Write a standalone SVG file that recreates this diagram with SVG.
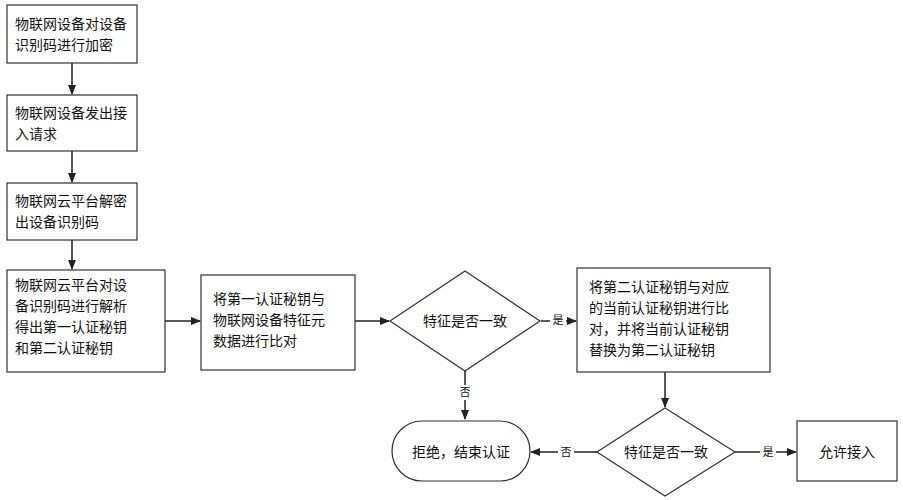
<svg xmlns="http://www.w3.org/2000/svg" width="903" height="500" viewBox="0 0 903 500">
<defs>
<marker id="ah" markerWidth="10" markerHeight="8" refX="9" refY="4" orient="auto" markerUnits="userSpaceOnUse"><path d="M0,0 L10,4 L0,8 Z" fill="#222"/></marker>
<style>
.n{fill:#fff;stroke:#333;stroke-width:1.2}
text{font-family:"Noto Sans CJK SC","Liberation Sans",sans-serif;font-size:14px;fill:#111}
.l{font-size:11px}
.c{stroke:#222;stroke-width:1.5;fill:none;marker-end:url(#ah)}
</style>
</defs>
<rect width="903" height="500" fill="#fff"/>
<g id="connectors">
<path class="c" d="M72,63 V94"/>
<path class="c" d="M72,151 V182"/>
<path class="c" d="M72,240 V269"/>
<path class="c" d="M165,321 H200"/>
<path class="c" d="M355,321 H389"/>
<path class="c" d="M541,321 H576"/>
<path class="c" d="M465,371 V419"/>
<path class="c" d="M665,372 V407"/>
<path class="c" d="M597,452 H531"/>
<path class="c" d="M735,452 H796"/>
<rect x="550" y="313" width="16" height="15" fill="#fff"/><text class="l" x="558" y="324" text-anchor="middle">是</text>
<rect x="457" y="385" width="16" height="15" fill="#fff"/><text class="l" x="465" y="396" text-anchor="middle">否</text>
<rect x="558" y="445" width="16" height="15" fill="#fff"/><text class="l" x="566" y="456" text-anchor="middle">否</text>
<rect x="760" y="445" width="16" height="15" fill="#fff"/><text class="l" x="768" y="456" text-anchor="middle">是</text>
</g>
<g id="n1"><rect class="n" x="7" y="5" width="130" height="58"/><text x="15" y="29">物联网设备对设备</text><text x="15" y="50">识别码进行加密</text></g>
<g id="n2"><rect class="n" x="7" y="95" width="130" height="56"/><text x="15" y="118">物联网设备发出接</text><text x="15" y="139">入请求</text></g>
<g id="n3"><rect class="n" x="7" y="183" width="130" height="57"/><text x="15" y="206">物联网云平台解密</text><text x="15" y="227">出设备识别码</text></g>
<g id="n4"><rect class="n" x="7" y="270" width="158" height="102"/><text x="15" y="290">物联网云平台对设</text><text x="15" y="311">备识别码进行解析</text><text x="15" y="332">得出第一认证秘钥</text><text x="15" y="353">和第二认证秘钥</text></g>
<g id="n5"><rect class="n" x="201" y="275" width="154" height="95"/><text x="213" y="304">将第一认证秘钥与</text><text x="213" y="325">物联网设备特征元</text><text x="213" y="346">数据进行比对</text></g>
<g id="d1"><path class="n" d="M465,271 L540,321 L465,371 L390,321 Z"/><text x="465" y="326" text-anchor="middle">特征是否一致</text></g>
<g id="n6"><rect class="n" x="577" y="268" width="193" height="104"/><text x="589" y="292">将第二认证秘钥与对应</text><text x="589" y="313">的当前认证秘钥进行比</text><text x="589" y="334">对，并将当前认证秘钥</text><text x="589" y="355">替换为第二认证秘钥</text></g>
<g id="d2"><path class="n" d="M665,408 L735,452 L665,496 L597,452 Z"/><text x="666" y="457" text-anchor="middle">特征是否一致</text></g>
<g id="t1"><rect class="n" x="392" y="421" width="138" height="60" rx="30"/><text x="461" y="457" text-anchor="middle">拒绝，结束认证</text></g>
<g id="n7"><rect class="n" x="797" y="421" width="100" height="60"/><text x="847" y="457" text-anchor="middle">允许接入</text></g>
</svg>
